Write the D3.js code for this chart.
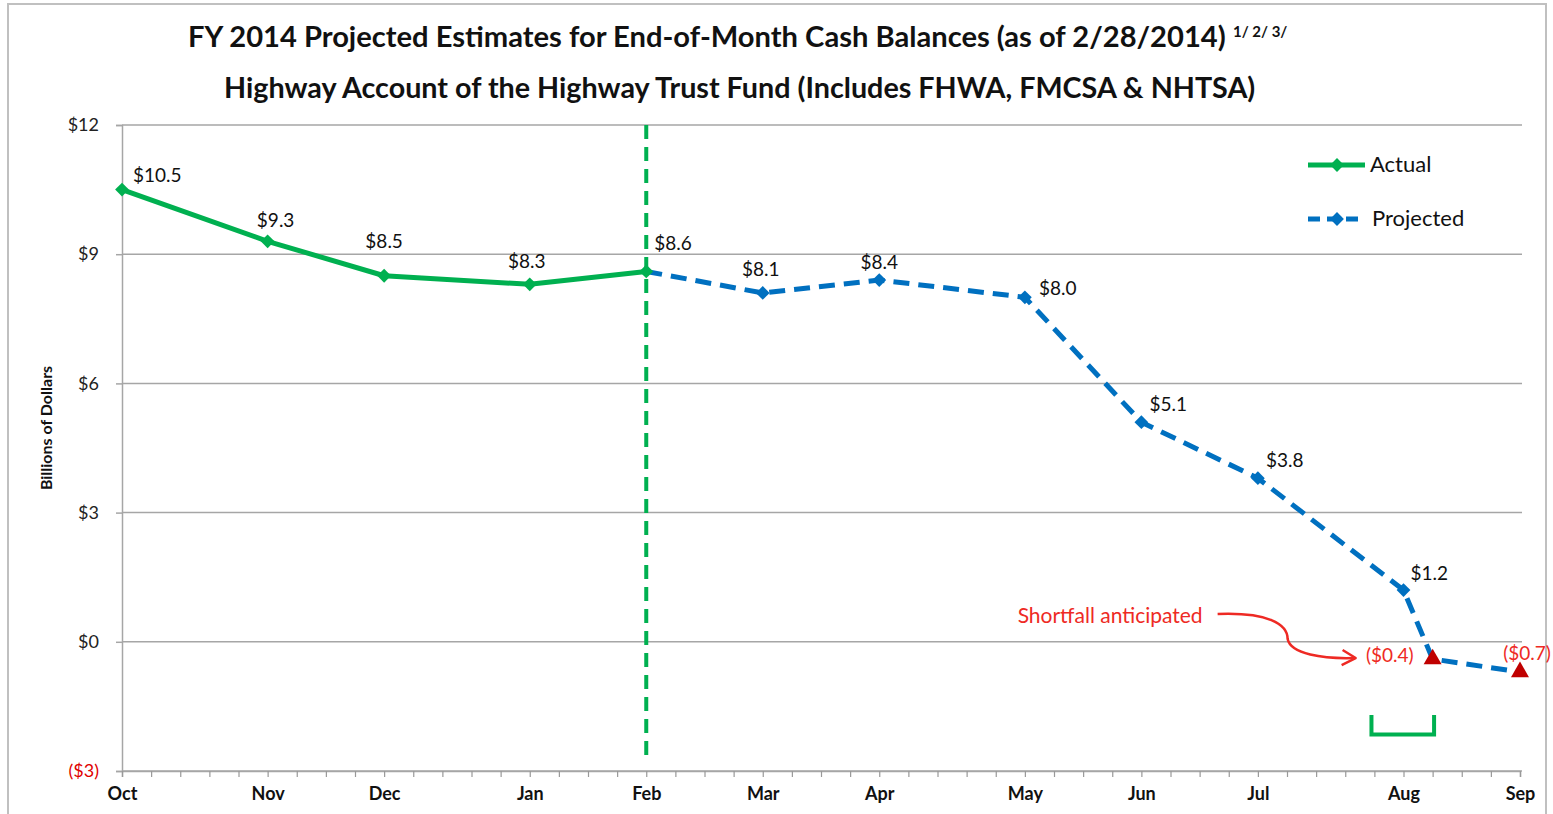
<!DOCTYPE html>
<html>
<head>
<meta charset="utf-8">
<script src="https://cdn.jsdelivr.net/npm/d3@7"></script>
<style>
  body { margin: 0; background: #fff; }
  svg { display: block; font-family: Lato, "Open Sans", sans-serif; }
</style>
</head>
<body>
<script>
// weekly category axis, Oct .. Sep (48 weeks)
const weekCount = 48;
const months = ['Oct', 'Nov', 'Dec', 'Jan', 'Feb', 'Mar', 'Apr', 'May', 'Jun', 'Jul', 'Aug', 'Sep'];
const monthWeeks = [0, 5, 9, 14, 18, 22, 26, 31, 35, 39, 44, 48];

const actualWeeks = [0, 5, 9, 14, 18];
const actualValues = [10.5, 9.3, 8.5, 8.3, 8.6];

const projectedWeeks = [18, 22, 26, 31, 35, 39, 44, 45, 48];
const projectedValues = [8.6, 8.1, 8.4, 8.0, 5.1, 3.8, 1.2, -0.4, -0.7];

const shortfallWeeks = [45, 48];
const shortfallValues = [-0.4, -0.7];

const yTicks = [-3, 0, 3, 6, 9, 12];

const GREEN = '#00b050', BLUE = '#0070c0', DARKRED = '#c00000', RED = '#ee2a24';

const svg = d3.select(document.body).append('svg')
  .attr('width', 1553).attr('height', 814);

// outer frame
svg.append('rect')
  .attr('x', 8).attr('y', 4).attr('width', 1538).attr('height', 840)
  .attr('fill', 'none').attr('stroke', '#c0c0c0').attr('stroke-width', 2);

const x = d3.scaleLinear().domain([0, weekCount]).range([122, 1520]);
const y = d3.scaleLinear().domain([-3, 12]).range([771, 125]);

function money(v) {
  return v < 0 ? `($${Math.abs(v).toFixed(1)})` : `$${v.toFixed(1)}`;
}
function moneyAxis(v) {
  return v < 0 ? `($${Math.abs(v)})` : `$${v}`;
}

// titles
function fitText(sel, width) {
  const size = parseFloat(sel.attr('font-size'));
  const w = sel.node().getComputedTextLength();
  sel.attr('font-size', size * width / w);
}
const t1 = svg.append('text')
  .attr('x', 188).attr('y', 47)
  .attr('font-size', 24).attr('font-weight', 'bold').attr('fill', '#111')
  .text('FY 2014 Projected Estimates for End-of-Month Cash Balances (as of 2/28/2014)');
fitText(t1, 1038);
svg.append('text')
  .attr('x', 1233).attr('y', 37)
  .attr('font-size', 15).attr('font-weight', 'bold').attr('fill', '#111')
  .text('1/ 2/ 3/');
const t2 = svg.append('text')
  .attr('x', 224).attr('y', 98)
  .attr('font-size', 24).attr('font-weight', 'bold').attr('fill', '#111')
  .text('Highway Account of the Highway Trust Fund (Includes FHWA, FMCSA & NHTSA)');
fitText(t2, 1032);

// gridlines
svg.append('g')
  .selectAll('line')
  .data(yTicks)
  .join('line')
  .attr('x1', x(0)).attr('x2', x(weekCount) + 2)
  .attr('y1', d => y(d)).attr('y2', d => y(d))
  .attr('stroke', '#a6a6a6').attr('stroke-width', 1.5);

// y axis
const yAxis = svg.append('g')
  .attr('transform', `translate(${x(0)},0)`)
  .call(d3.axisLeft(y).tickValues(yTicks).tickSize(6).tickPadding(17).tickFormat(moneyAxis));
yAxis.select('.domain').attr('stroke', '#a6a6a6').attr('stroke-width', 1.5);
yAxis.selectAll('.tick line').attr('stroke', '#a6a6a6').attr('stroke-width', 1.5);
yAxis.selectAll('.tick text')
  .attr('font-family', 'Lato, sans-serif').attr('font-size', 18)
  .attr('fill', d => d < 0 ? '#e00000' : '#222');

// x axis
const xAxis = svg.append('g')
  .attr('transform', `translate(0,${y(-3)})`)
  .call(d3.axisBottom(x)
    .tickValues(d3.range(0, weekCount + 1))
    .tickSize(6).tickPadding(10)
    .tickFormat(w => {
      const i = monthWeeks.indexOf(w);
      return i >= 0 ? months[i] : '';
    }));
xAxis.select('.domain').attr('stroke', '#a6a6a6').attr('stroke-width', 1.5);
xAxis.selectAll('.tick line').attr('stroke', '#999').attr('stroke-width', 1.2);
xAxis.selectAll('.tick text')
  .attr('font-family', 'Lato, sans-serif').attr('font-size', 18)
  .attr('font-weight', 'bold').attr('fill', '#111');

// y axis title
svg.append('text')
  .attr('transform', `translate(52,${(y(6) + y(3)) / 2 - 20}) rotate(-90)`)
  .attr('text-anchor', 'middle')
  .attr('font-size', 16).attr('font-weight', 'bold').attr('fill', '#111')
  .text('Billions of Dollars');

// vertical divider at last actual month
svg.append('line')
  .attr('x1', x(actualWeeks[actualWeeks.length - 1])).attr('x2', x(actualWeeks[actualWeeks.length - 1]))
  .attr('y1', y(12)).attr('y2', y(-3) - 11)
  .attr('stroke', GREEN).attr('stroke-width', 4).attr('stroke-dasharray', '14,8');

const line = d3.line().x(d => x(d.w)).y(d => y(d.v));
const actual = actualWeeks.map((w, i) => ({w, v: actualValues[i]}));
const projected = projectedWeeks.map((w, i) => ({w, v: projectedValues[i]}));
const shortfall = shortfallWeeks.map((w, i) => ({w, v: shortfallValues[i]}));

svg.append('path').datum(projected)
  .attr('fill', 'none').attr('stroke', BLUE).attr('stroke-width', 5)
  .attr('stroke-dasharray', '16,9').attr('d', line);
svg.append('path').datum(actual)
  .attr('fill', 'none').attr('stroke', GREEN).attr('stroke-width', 5)
  .attr('stroke-linejoin', 'round').attr('d', line);

const diamond = d3.symbol(d3.symbolSquare, 95);
svg.append('g').selectAll('path')
  .data(projected.filter(d => !shortfallWeeks.includes(d.w) && !actualWeeks.includes(d.w)))
  .join('path')
  .attr('d', diamond)
  .attr('transform', d => `translate(${x(d.w)},${y(d.v)}) rotate(45)`)
  .attr('fill', BLUE);
svg.append('g').selectAll('path')
  .data(actual)
  .join('path')
  .attr('d', diamond)
  .attr('transform', d => `translate(${x(d.w)},${y(d.v)}) rotate(45)`)
  .attr('fill', GREEN);
svg.append('g').selectAll('path')
  .data(shortfall)
  .join('path')
  .attr('d', d3.symbol(d3.symbolTriangle, 140))
  .attr('transform', d => `translate(${x(d.w)},${y(d.v)})`)
  .attr('fill', DARKRED);

// data labels: [anchor, dx, dy] per point
const actualLabelPos = [['start', 11, -8], ['middle', 8, -14], ['middle', 0, -28], ['middle', -3, -16], ['start', 8, -21]];
const projectedLabelPos = [null, ['middle', -2, -17], ['middle', 0, -11], ['start', 14, -2],
  ['start', 8, -11], ['start', 8, -11], ['start', 7, -10], ['end', -19, 3], ['middle', 7, -12]];

function drawLabels(points, pos) {
  svg.append('g').selectAll('text')
    .data(points.map((d, i) => ({...d, p: pos[i]})).filter(d => d.p))
    .join('text')
    .attr('x', d => x(d.w) + d.p[1])
    .attr('y', d => y(d.v) + d.p[2])
    .attr('text-anchor', d => d.p[0])
    .attr('font-size', 19)
    .attr('fill', d => d.v < 0 ? RED : '#111')
    .text(d => money(d.v));
}
drawLabels(actual, actualLabelPos);
drawLabels(projected, projectedLabelPos);

// shortfall annotation
const sx = x(shortfallWeeks[0]), sy = y(shortfallValues[0]);
svg.append('text')
  .attr('x', sx - 230).attr('y', sy - 36)
  .attr('text-anchor', 'end')
  .attr('font-size', 21).attr('fill', RED)
  .text('Shortfall anticipated');
svg.append('path')
  .attr('d', `M${sx - 215},${sy - 45} C${sx - 165},${sy - 47} ${sx - 145},${sy - 35} ${sx - 145},${sy - 20}
    C${sx - 142},${sy - 5} ${sx - 110},${sy} ${sx - 78},${sy - 1}`)
  .attr('fill', 'none').attr('stroke', RED).attr('stroke-width', 2.5);
svg.append('path')
  .attr('d', `M${sx - 90},${sy - 9} L${sx - 77},${sy - 1} L${sx - 91},${sy + 6}`)
  .attr('fill', 'none').attr('stroke', RED).attr('stroke-width', 2.5)
  .attr('stroke-linejoin', 'round');

// green bracket under the shortfall month
svg.append('path')
  .attr('d', `M${x(42.9)},${y(-1.7)} V${y(-2.15)} H${x(45.05)} V${y(-1.7)}`)
  .attr('fill', 'none').attr('stroke', GREEN).attr('stroke-width', 4);

// legend
const legend = svg.append('g').attr('transform', 'translate(1308,0)');
legend.append('line').attr('x1', 0).attr('x2', 57).attr('y1', 165).attr('y2', 165)
  .attr('stroke', GREEN).attr('stroke-width', 5);
legend.append('path').attr('d', diamond).attr('transform', 'translate(29,165) rotate(45)').attr('fill', GREEN);
legend.append('text').attr('x', 62).attr('y', 172).attr('font-size', 22).attr('fill', '#111').text('Actual');
legend.append('line').attr('x1', 0).attr('x2', 52).attr('y1', 219).attr('y2', 219)
  .attr('stroke', BLUE).attr('stroke-width', 5).attr('stroke-dasharray', '12,7');
legend.append('path').attr('d', diamond).attr('transform', 'translate(29,219) rotate(45)').attr('fill', BLUE);
legend.append('text').attr('x', 64).attr('y', 226).attr('font-size', 22).attr('fill', '#111').text('Projected');
</script>
</body>
</html>
